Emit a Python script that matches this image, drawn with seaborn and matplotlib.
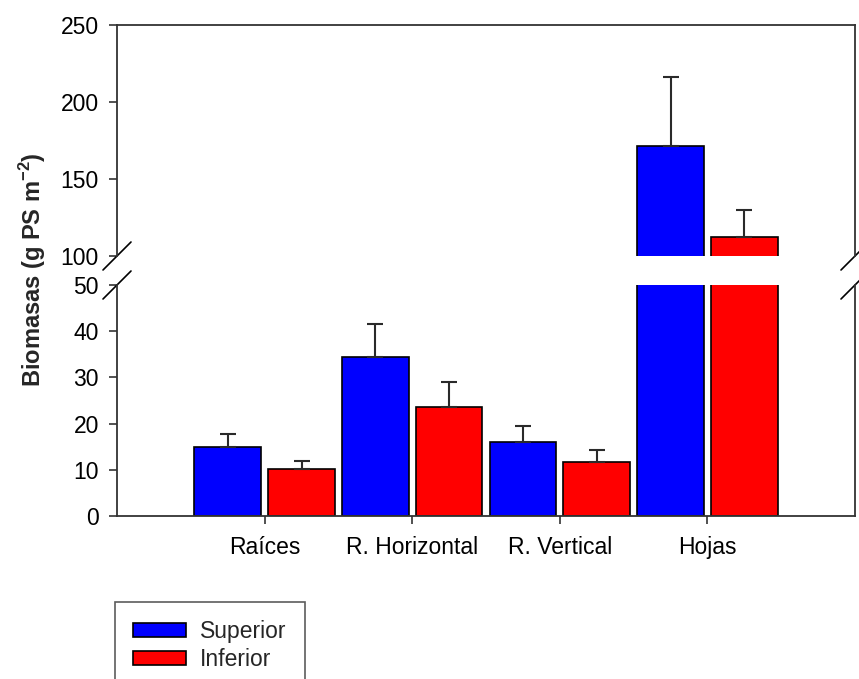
import numpy as np
import pandas as pd
import seaborn as sns
import matplotlib.pyplot as plt

categorias = ["Raíces", "R. Horizontal", "R. Vertical", "Hojas"]
superior = [15.0, 34.5, 16.0, 171.6]
inferior = [10.2, 23.7, 11.6, 112.5]
err_superior = [2.7, 7.0, 3.5, 44.8]
err_inferior = [1.7, 5.2, 2.7, 17.4]
grupos = ["Superior", "Inferior"]
colores = {"Superior": "#0000FF", "Inferior": "#FF0000"}

df = pd.DataFrame({
    "Parte": categorias * 2,
    "Biomasa": superior + inferior,
    "Posicion": ["Superior"] * 4 + ["Inferior"] * 4,
})
errores = {"Superior": err_superior, "Inferior": err_inferior}

sns.set_style("ticks")
plt.rcParams["font.family"] = ["Liberation Sans", "DejaVu Sans"]
plt.rcParams["mathtext.fontset"] = "custom"
plt.rcParams["mathtext.rm"] = "Liberation Sans"
plt.rcParams["mathtext.bf"] = "Liberation Sans:bold"

W, H = 859, 679
fs = 16.5
fig = plt.figure(figsize=(W / 100, H / 100), dpi=100)
x0, x1 = 117, 855
ax_top = fig.add_axes([x0 / W, 1 - 256 / H, (x1 - x0) / W, (256 - 25) / H])
ax_bot = fig.add_axes([x0 / W, 1 - 516 / H, (x1 - x0) / W, (516 - 285) / H])

spine_c = "#333333"
for ax in (ax_top, ax_bot):
    sns.barplot(data=df, x="Parte", y="Biomasa", hue="Posicion", hue_order=grupos,
                palette=colores, width=1.0, gap=0.1, edgecolor="black",
                linewidth=1.2, saturation=1, legend=(ax is ax_bot), ax=ax)
    for cont, g in zip(ax.containers, grupos):
        xs = [b.get_x() + b.get_width() / 2 for b in cont]
        ys = [b.get_height() for b in cont]
        ax.errorbar(xs, ys, yerr=[np.zeros(len(ys)), errores[g]], fmt="none",
                    ecolor="#2a2a2a", elinewidth=1.5, capsize=5.5, capthick=1.5, zorder=1)
    ax.set_xlim(-1, 4)
    ax.set_xlabel("")
    ax.set_ylabel("")
    for s in ax.spines.values():
        s.set_color(spine_c)
        s.set_linewidth(1.3)
    ax.tick_params(axis="both", colors=spine_c, labelcolor="black", labelsize=fs,
                   length=5.5, width=1.2, direction="out")
    ax.tick_params(axis="y", pad=7.5)

ax_top.set_ylim(100, 250)
ax_top.set_yticks([100, 150, 200, 250])
ax_top.spines["bottom"].set_visible(False)
ax_top.tick_params(axis="x", bottom=False, labelbottom=False)

ax_bot.set_ylim(0, 50)
ax_bot.set_yticks([0, 10, 20, 30, 40, 50])
ax_bot.spines["top"].set_visible(False)
ax_bot.tick_params(axis="x", pad=9)

# break marks
dx = 14 / (x1 - x0)
dy = 14 / 231
for ax, yb in ((ax_top, 0), (ax_bot, 1)):
    for xb in (0, 1):
        ax.plot([xb - dx, xb + dx], [yb - dy, yb + dy], transform=ax.transAxes,
                color="black", lw=1.2, clip_on=False)

fig.text(33 / W, 1 - 270 / H, r"Biomasas (g PS m$^{\mathbf{-2}}$)", rotation=90,
         ha="center", va="center", fontsize=17, fontweight="bold")

handles, labels = ax_bot.get_legend_handles_labels()
ax_bot.get_legend().remove()
leg = fig.legend(handles, labels, loc="upper left", bbox_to_anchor=(115 / W, 1 - 602 / H),
                 fontsize=fs, frameon=True, fancybox=False, borderpad=0.8,
                 labelspacing=0.2, handlelength=2.3, handleheight=0.55,
                 handletextpad=0.6, borderaxespad=0)
leg.get_frame().set_edgecolor(spine_c)
leg.get_frame().set_linewidth(1.2)

fig.savefig("out.png", dpi=100)
